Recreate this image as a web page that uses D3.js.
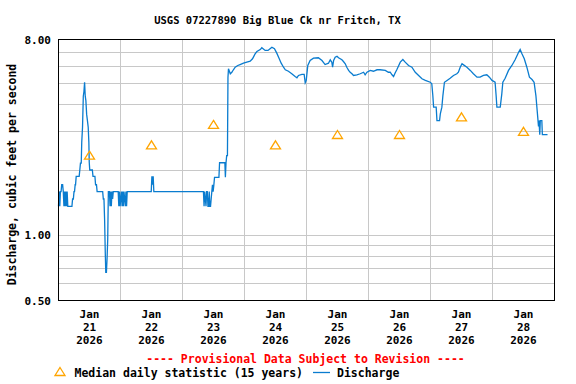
<!DOCTYPE html>
<html>
<head>
<meta charset="utf-8">
<script src="https://cdn.jsdelivr.net/npm/d3@7"></script>
<style>
  body { margin: 0; background: #fff; }
  svg text { font-family: "DejaVu Sans Mono", monospace; font-weight: bold; }
</style>
</head>
<body>
<svg width="576" height="384"></svg>
<script>
var title = "USGS 07227890 Big Blue Ck nr Fritch, TX";
var yLabel = "Discharge, cubic feet per second";
var startDate = new Date(2026, 0, 21);
var endDate = new Date(2026, 0, 29);
var dayLabels = ["21", "22", "23", "24", "25", "26", "27", "28"];
var yTickValues = [0.5, 1, 8];
var yGridValues = [0.6, 0.7, 0.8, 0.9, 1, 2, 3, 4, 5, 6, 7];

// median daily statistic, one per day (drawn at noon)
var medianValues = [2.33, 2.6, 3.23, 2.6, 2.9, 2.9, 3.5, 3.0];

// discharge: [hours since Jan 21 00:00, cfs]
var discharge = [
  [0,1.36],[0.25,1.59],[0.5,1.36],[0.75,1.59],[1.0,1.59],[1.25,1.71],[1.6,1.71],[1.85,1.59],[2.1,1.36],[2.35,1.59],
  [2.6,1.36],[2.85,1.59],[3.1,1.36],[3.35,1.59],[3.6,1.36],[5.2,1.36],[5.45,1.47],[5.75,1.47],[6.0,1.59],[6.2,1.59],
  [6.45,1.71],[6.6,1.71],[6.85,1.87],[8.0,1.87],[8.25,2.0],[8.5,2.15],[8.8,2.15],[9.0,2.69],[9.3,3.15],[9.6,4.38],
  [9.85,4.6],[10.1,5.08],[10.35,4.38],[10.6,4.18],[10.9,3.61],[11.2,3.38],[11.5,3.15],[11.75,2.69],[11.9,2.17],[12.1,2.0],
  [13.1,2.0],[13.35,1.87],[14.1,1.87],[14.35,1.71],[14.7,1.71],[14.95,1.59],[17.1,1.59],[17.35,1.47],[17.6,1.47],[17.85,1.18],
  [18.1,0.835],[18.3,0.675],[18.55,0.675],[18.8,0.78],[19.05,0.956],[19.3,1.59],
  [19.7,1.59],[19.95,1.36],[20.2,1.59],[20.45,1.36],[20.7,1.59],[20.95,1.47],[21.2,1.59],
  [23.1,1.59],[23.35,1.36],[23.6,1.59],[23.85,1.36],[24.1,1.47],[24.35,1.59],[24.6,1.36],[24.85,1.59],[25.1,1.36],[25.35,1.59],
  [25.6,1.47],[25.85,1.36],[26.1,1.59],[26.35,1.36],[26.6,1.59],
  [35.9,1.59],[36.15,1.87],[36.4,1.71],[36.65,1.87],[36.9,1.59],
  [56.1,1.59],[56.35,1.36],[56.6,1.59],[56.85,1.47],[57.1,1.36],[57.35,1.59],[57.6,1.59],[57.85,1.36],[58.1,1.36],[58.35,1.59],
  [58.6,1.36],[58.85,1.36],[59.1,1.47],[59.35,1.59],[59.6,1.71],[59.85,1.59],[60.1,1.69],[60.4,1.85],[62.1,1.85],[62.35,2.16],
  [64.4,2.16],[64.6,1.85],[64.85,2.16],[65.1,2.33],[65.4,2.33],
  [65.6,5.36],[65.8,5.86],[66.5,5.56],[67.1,5.65],[67.7,5.80],[68.4,5.96],[69.4,6.07],[70.3,6.13],[71.6,6.22],[72.9,6.29],
  [74.2,6.35],[75.1,6.52],[76.1,6.87],[76.8,7.04],[78.1,7.19],[78.7,7.33],[80.0,7.12],[81.1,7.12],[81.9,7.25],[82.6,7.37],
  [83.6,7.25],[84.5,6.92],[85.2,6.63],[86.2,6.22],[87.1,5.96],[87.8,5.80],[89.0,5.71],[90.3,5.56],[91.6,5.40],[92.3,5.33],
  [92.9,5.46],[94.2,5.52],[95.1,5.52],[95.5,5.05],[95.9,5.18],[96.5,6.07],[97.4,6.40],[98.7,6.56],[100.6,6.59],[102.0,6.40],
  [103.2,6.13],[104.5,6.22],[105.2,6.45],[105.8,6.29],[106.1,5.96],[106.5,6.40],[107.1,6.63],[107.8,6.70],[108.4,6.59],[109.7,6.45],
  [110.3,6.33],[111.0,6.18],[111.6,5.96],[112.3,5.76],[112.9,5.65],[113.6,5.56],[114.2,5.46],[115.5,5.50],[116.8,5.56],[118.1,5.65],
  [118.7,5.50],[119.4,5.65],[120.7,5.76],[121.9,5.71],[123.3,5.80],[124.5,5.80],[126.5,5.76],[127.7,5.65],[128.4,5.65],[129.1,5.50],
  [129.7,5.40],[130.3,5.60],[131.0,5.82],[132.3,6.29],[133.3,6.47],[134.2,6.29],[135.5,6.07],[136.8,5.96],[138.1,5.65],[139.4,5.46],
  [140.7,5.27],[142.0,5.18],[143.9,5.08],[144.5,5.00],[144.9,4.41],[145.2,3.90],[146.2,3.90],[146.5,3.38],[147.5,3.38],[147.8,3.63],
  [148.4,3.90],[148.8,4.41],[149.4,5.08],[150.4,5.18],[151.6,5.30],[152.9,5.46],[154.2,5.56],[154.8,5.65],[155.5,5.96],[156.2,6.18],
  [156.8,6.11],[158.1,5.96],[159.4,5.76],[160.6,5.56],[162.0,5.36],[163.2,5.36],[164.5,5.46],[165.8,5.50],[166.8,5.36],[167.8,5.18],
  [169.0,5.08],[169.4,4.41],[169.7,3.90],[171.0,3.90],[171.6,4.49],[172.0,5.08],[172.9,5.30],[174.2,5.76],[175.5,6.07],[176.8,6.47],
  [178.1,6.99],[178.7,7.19],[179.4,6.87],[180.3,6.52],[181.3,5.96],[182.3,5.36],[183.3,5.23],[184.1,5.08],[184.8,4.41],[185.4,3.63],
  [185.8,3.18],[186.0,3.38],[186.3,2.91],[186.5,3.38],[187.1,3.38],[187.3,2.91],[189.3,2.91]
];

var svg = d3.select("svg");
var plotL = 58.5, plotR = 554.5, plotT = 39.5, plotB = 300.5;

var x = d3.scaleTime().domain([startDate, endDate]).range([plotL, plotR]);
var y = d3.scaleLog().domain([0.5, 8]).range([plotB, plotT]);

function hoursToDate(h) {
  return d3.timeMinute.offset(startDate, Math.round(h * 60));
}
function crisp(v) { return Math.round(v - 0.5) + 0.5; }

// grid
var grid = svg.append("g").attr("stroke", "#c8c8c8").attr("stroke-width", 1);
grid.selectAll(".hg").data(yGridValues).enter().append("line")
  .attr("x1", plotL).attr("x2", plotR)
  .attr("y1", d => crisp(y(d))).attr("y2", d => crisp(y(d)));
var dayTicks = d3.timeDay.range(d3.timeDay.offset(startDate, 1), endDate);
grid.selectAll(".vg").data(dayTicks).enter().append("line")
  .attr("y1", plotT).attr("y2", plotB)
  .attr("x1", d => crisp(x(d))).attr("x2", d => crisp(x(d)));

// discharge line
var line = d3.line()
  .x(d => x(hoursToDate(d[0])))
  .y(d => y(d[1]));
svg.append("path").datum(discharge)
  .attr("fill", "none")
  .attr("stroke", "#0a7ccf")
  .attr("stroke-width", 1.3)
  .attr("d", line);

// median triangles
function tri(cx, cy) {
  return "M" + cx + "," + (cy - 4.5) + "L" + (cx + 5) + "," + (cy + 3.5) + "L" + (cx - 5) + "," + (cy + 3.5) + "Z";
}
svg.append("g").selectAll("path").data(medianValues).enter().append("path")
  .attr("fill", "none").attr("stroke", "#ffa500").attr("stroke-width", 1.3)
  .attr("d", (d, i) => tri(x(d3.timeHour.offset(d3.timeDay.offset(startDate, i), 12)), y(d)));

// frame
svg.append("rect")
  .attr("x", plotL).attr("y", plotT)
  .attr("width", plotR - plotL).attr("height", plotB - plotT)
  .attr("fill", "none").attr("stroke", "#000").attr("stroke-width", 1);

// y tick labels
svg.append("g").selectAll("text").data(yTickValues).enter().append("text")
  .attr("x", 51).attr("y", d => y(d) + 4)
  .attr("text-anchor", "end").attr("font-size", "11px")
  .text(d => d3.format(".2f")(d));

// x tick labels
var xl = svg.append("g").attr("font-size", "11px").attr("text-anchor", "middle");
dayLabels.forEach(function (lab, i) {
  var cx = x(d3.timeHour.offset(d3.timeDay.offset(startDate, i), 12));
  xl.append("text").attr("x", cx).attr("y", 317.5).text("Jan");
  xl.append("text").attr("x", cx).attr("y", 330.5).text(lab);
  xl.append("text").attr("x", cx).attr("y", 343.5).text("2026");
});

// title
svg.append("text").attr("x", 277.5).attr("y", 23.5)
  .attr("text-anchor", "middle").attr("font-size", "10.5px").text(title);

// y label
svg.append("text")
  .attr("transform", "translate(16,174.5) rotate(-90)")
  .attr("text-anchor", "middle").attr("font-size", "11.5px").text(yLabel);

// legend
svg.append("text").attr("x", 305.5).attr("y", 363)
  .attr("text-anchor", "middle").attr("font-size", "11.5px").attr("fill", "#ff0000")
  .text("---- Provisional Data Subject to Revision ----");
svg.append("path").attr("d", tri(60, 372))
  .attr("fill", "none").attr("stroke", "#ffa500").attr("stroke-width", 1.3);
svg.append("text").attr("x", 74.5).attr("y", 376.5).attr("font-size", "11.5px")
  .text("Median daily statistic (15 years)");
svg.append("line").attr("x1", 313).attr("x2", 330).attr("y1", 372.5).attr("y2", 372.5)
  .attr("stroke", "#0a7ccf").attr("stroke-width", 1.3);
svg.append("text").attr("x", 337).attr("y", 376.5).attr("font-size", "11.5px")
  .text("Discharge");
</script>
</body>
</html>
